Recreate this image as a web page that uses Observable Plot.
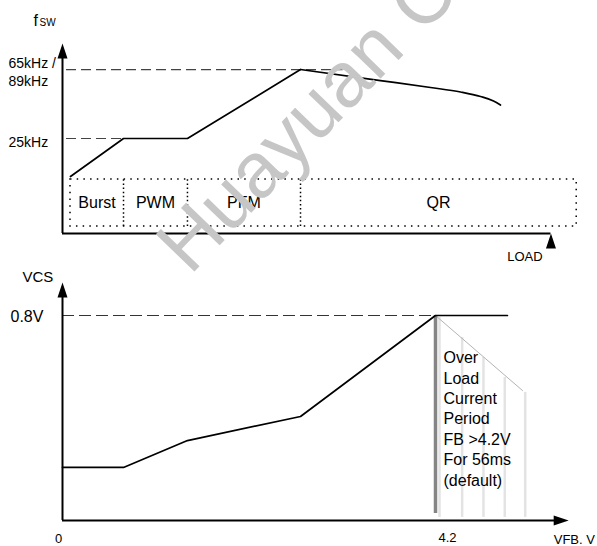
<!DOCTYPE html>
<html><head><meta charset="utf-8">
<script src="https://cdn.jsdelivr.net/npm/d3@7"></script>
<script src="https://cdn.jsdelivr.net/npm/@observablehq/plot@0.6"></script>
<style>
body{margin:0;background:#fff;}
#wrap{position:relative;width:597px;height:546px;overflow:hidden;background:#fff;}
#wrap svg{display:block;}
</style></head><body><div id="wrap"></div>
<script>
// ---------- data ----------
// top panel: switching frequency vs load (schematic levels)
const modeNames = ["Burst", "PWM", "PFM", "QR"];
const modeBreaks = [0.09, 0.687, 1.407, 2.68, 5.79];
const modeBand = [0.37, 2.84];
const fswTickLevels = [5, 8.63];
const fswTickLabels = ["25kHz", "65kHz /\n89kHz"];
const fswDashEnd = [0.687, 3.16];
const fswLoad = [0.09, 0.687, 1.407, 2.68];
const fswLevel = [3.0, 5.0, 5.0, 8.63];
const fswTailLoad = [2.68, 3.58, 4.144, 4.482, 4.707, 4.853, 4.932];
const fswTailLevel = [8.63, 8.05, 7.684, 7.447, 7.21, 6.974, 6.763];
const loadAxisEnd = 5.5;
const fswAxisTop = 10;

// bottom panel: VCS vs VFB
const vfb = [0, 0.687, 1.407, 2.68, 4.2, 5.01];
const vcs = [0.207, 0.207, 0.312, 0.406, 0.8, 0.8];
const vcsLimit = 0.8;
const vfbLimit = 4.2;
const olpHatchX = [4.245, 4.5, 4.74, 4.98, 5.21];
const olpHatchTop = [0.792, 0.714, 0.636, 0.558, 0.5];
const olpEdgeX = [4.2, 5.18];
const olpEdgeY = [0.8, 0.507];
const olpText = ["Over", "Load", "Current", "Period", "FB >4.2V", "For 56ms", "(default)"];
const vfbAxisEnd = 5.7;
const vcsAxisTop = 0.929;

// ---------- drawing ----------
const FONT = "Liberation Sans, Arial, Helvetica, sans-serif";
const arrowUp = {draw(ctx) { ctx.moveTo(0, 0); ctx.lineTo(-5, 15); ctx.lineTo(5, 15); ctx.closePath(); }};
const X = {domain: [0, 4.2], range: [62, 435]};
const wrap = document.getElementById("wrap");

const topPanel = Plot.plot({
  width: 597, height: 262, margin: 0,
  x: X, y: {domain: [0, 10], range: [233, 43]},
  axis: null,
  style: {fontFamily: FONT, background: "transparent", overflow: "visible"},
  marks: [
    Plot.rect([0], {x1: modeBreaks[0], x2: modeBreaks[modeBreaks.length - 1], y1: modeBand[0], y2: modeBand[1],
      fill: "none", stroke: "#000", strokeWidth: 1.5, strokeDasharray: "1.5,5.2"}),
    Plot.ruleX(modeBreaks.slice(1, -1), {y1: modeBand[0], y2: modeBand[1], stroke: "#000", strokeWidth: 1.5, strokeDasharray: "1.5,2.6"}),
    Plot.text(modeNames, {x: (d, i) => (modeBreaks[i] + modeBreaks[i + 1]) / 2, y: 1.316, text: d => d,
      fontSize: 16, lineAnchor: "bottom", fill: "#000"}),
    Plot.ruleY(fswTickLevels, {x1: 0.045, x2: (d, i) => fswDashEnd[i], stroke: "#444", strokeWidth: 1.2, strokeDasharray: "10,5"}),
    Plot.line(fswLoad.map((x, i) => ({x, y: fswLevel[i]})), {x: "x", y: "y", stroke: "#000", strokeWidth: 1.7}),
    Plot.line(fswTailLoad.map((x, i) => ({x, y: fswTailLevel[i]})), {x: "x", y: "y", stroke: "#000", strokeWidth: 1.7, curve: "monotone-x"}),
    Plot.ruleX([0], {y1: 0, y2: fswAxisTop - 0.5, stroke: "#000", strokeWidth: 2}),
    Plot.ruleY([0], {x1: 0, x2: loadAxisEnd, stroke: "#000", strokeWidth: 2}),
    Plot.dot([{x: 0, y: fswAxisTop}, {x: loadAxisEnd, y: 0}], {x: "x", y: "y", symbol: arrowUp, fill: "#000", stroke: "none"}),
    Plot.text([fswTickLabels[0]], {x: 0, y: fswTickLevels[0], text: d => d, dx: -54, dy: 8, textAnchor: "start", lineAnchor: "bottom", fontSize: 14}),
    Plot.text([fswTickLabels[1]], {x: 0, y: fswTickLevels[1], text: d => d, dx: -54, dy: -14, textAnchor: "start", lineAnchor: "top", fontSize: 14, lineHeight: 1.29}),
    Plot.text(["f"], {x: 0, y: fswAxisTop, dx: -29, dy: -18, text: d => d, textAnchor: "start", lineAnchor: "bottom", fontSize: 16}),
    Plot.text(["SW"], {x: 0, y: fswAxisTop, dx: -23, dy: -18, text: d => d, textAnchor: "start", lineAnchor: "bottom", fontSize: 10}),
    Plot.text(["LOAD"], {x: loadAxisEnd, y: 0, dx: -26, dy: 27, text: d => d, textAnchor: "middle", lineAnchor: "bottom", fontSize: 13})
  ]
});
wrap.appendChild(topPanel);

const bottomPanel = Plot.plot({
  width: 597, height: 284, margin: 0,
  x: X, y: {domain: [0, 0.8], range: [258, 53]},
  axis: null,
  style: {fontFamily: FONT, background: "transparent", overflow: "visible"},
  marks: [
    Plot.ruleX(olpHatchX, {x: d => d, y1: 0.012, y2: (d, i) => olpHatchTop[i], stroke: "#e3e3e3", strokeWidth: 2.5}),
    Plot.line(olpEdgeX.map((x, i) => ({x, y: olpEdgeY[i]})), {x: "x", y: "y", stroke: "#aaa", strokeWidth: 0.9}),
    Plot.ruleX([vfbLimit], {y1: 0.027, y2: vcsLimit, stroke: "#858585", strokeWidth: 3.5}),
    Plot.ruleY([vcsLimit], {x1: 0, x2: vfbLimit, stroke: "#333", strokeWidth: 1.2, strokeDasharray: "12,5"}),
    Plot.line(vfb.map((x, i) => ({x, y: vcs[i]})), {x: "x", y: "y", stroke: "#000", strokeWidth: 1.7}),
    Plot.ruleX([0], {y1: 0, y2: vcsAxisTop - 0.04, stroke: "#000", strokeWidth: 2}),
    Plot.ruleY([0], {x1: 0, x2: vfbAxisEnd - 0.1, stroke: "#000", strokeWidth: 2}),
    Plot.dot([{x: 0, y: vcsAxisTop, r: 0}, {x: vfbAxisEnd, y: 0, r: 90}], {x: "x", y: "y", rotate: "r", symbol: arrowUp, fill: "#000", stroke: "none"}),
    Plot.text([olpText.join("\n")], {x: vfbLimit, y: vcsLimit, dx: 8, dy: 33, text: d => d, textAnchor: "start", lineAnchor: "top", fontSize: 16, lineHeight: 1.28}),
    Plot.text(["VCS"], {x: 0, y: vcsAxisTop, dx: -40, dy: 0, text: d => d, textAnchor: "start", lineAnchor: "bottom", fontSize: 15}),
    Plot.text(["0.8V"], {x: 0, y: vcsLimit, dx: -52, dy: 6, text: d => d, textAnchor: "start", lineAnchor: "bottom", fontSize: 16}),
    Plot.text(["0"], {x: 0, y: 0, dx: -4, dy: 22, text: d => d, textAnchor: "middle", lineAnchor: "bottom", fontSize: 13}),
    Plot.text([String(vfbLimit)], {x: vfbLimit, y: 0, dx: 12, dy: 21, text: d => d, textAnchor: "middle", lineAnchor: "bottom", fontSize: 13}),
    Plot.text(["VFB. V"], {x: vfbAxisEnd, y: 0, dx: -15, dy: 23, text: d => d, textAnchor: "start", lineAnchor: "bottom", fontSize: 13})
  ]
});
wrap.appendChild(bottomPanel);

const wm = d3.select(wrap).append("svg")
  .attr("width", 597).attr("height", 546)
  .style("position", "absolute").style("left", 0).style("top", 0).style("pointer-events", "none");
wm.append("text")
  .attr("transform", "translate(190,276) rotate(-46)")
  .attr("font-family", FONT).attr("font-size", 78)
  .attr("fill", "#c6c6c6")
  .text("Huayuan Co");
</script>
</body></html>
